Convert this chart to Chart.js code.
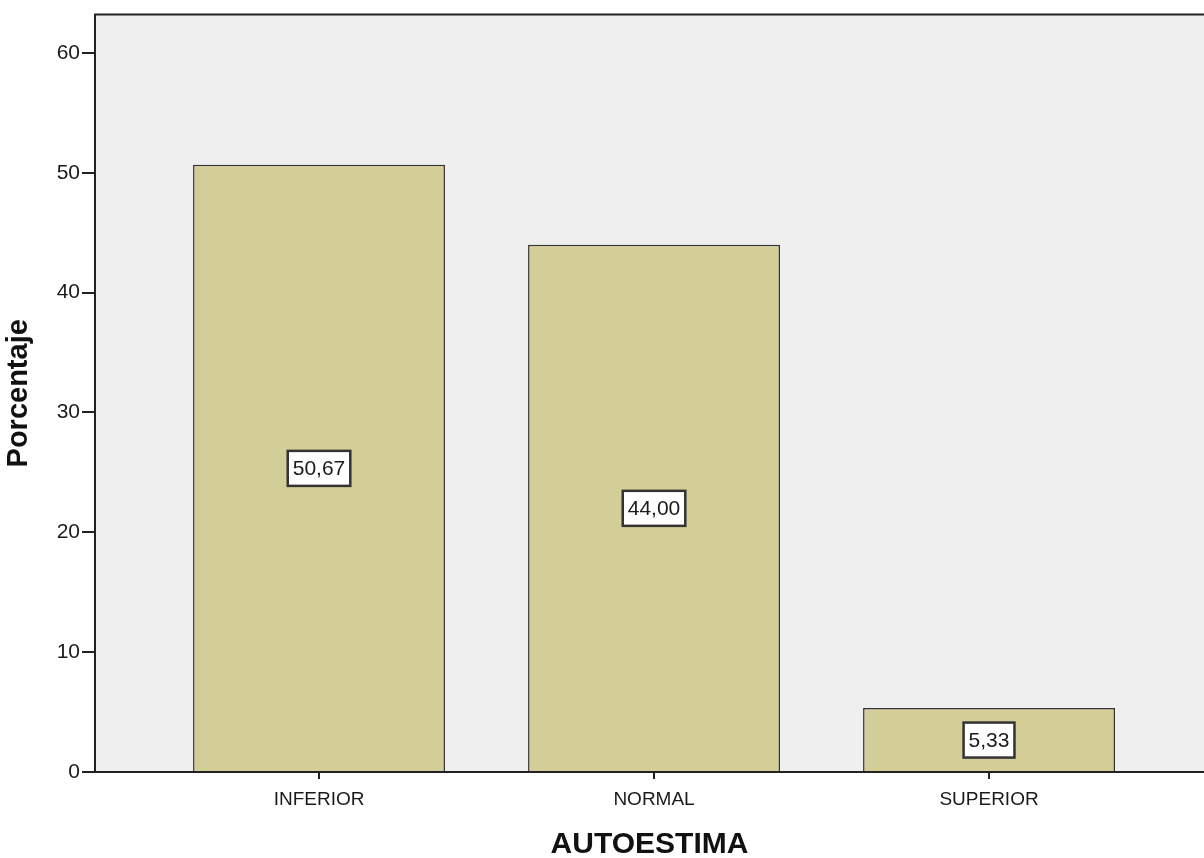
<!DOCTYPE html>
<html>
<head>
<meta charset="utf-8">
<script src="https://cdn.jsdelivr.net/npm/chart.js@4"></script>
<style>
  html, body { margin: 0; padding: 0; background: #fff; overflow: hidden; }
  canvas { display: block; }
</style>
</head>
<body>
<canvas id="grafico" width="1204" height="858"></canvas>
<script>
// Datos del gráfico
var categorias = ['INFERIOR', 'NORMAL', 'SUPERIOR'];
var porcentajes = [50.67, 44.00, 5.33];
var ticksY = [0, 10, 20, 30, 40, 50, 60];

// Fondo gris del área de trazado y borde superior
var fondoPlugin = {
    id: 'fondo',
    beforeDraw: function(chart) {
        var a = chart.chartArea, ctx = chart.ctx;
        ctx.save();
        ctx.fillStyle = '#efefef';
        ctx.fillRect(a.left, a.top, a.right - a.left, a.bottom - a.top);
        ctx.restore();
    },
    afterDraw: function(chart) {
        var a = chart.chartArea, ctx = chart.ctx;
        ctx.save();
        ctx.strokeStyle = '#222';
        ctx.lineWidth = 2;
        ctx.beginPath();
        ctx.moveTo(a.left - 1, a.top);
        ctx.lineTo(a.right + 2, a.top);
        ctx.stroke();
        ctx.restore();
    }
};

// Etiquetas con caja blanca en el centro de cada barra
var etiquetasPlugin = {
    id: 'etiquetas',
    afterDatasetsDraw: function(chart) {
        var ctx = chart.ctx, y = chart.scales.y;
        var meta = chart.getDatasetMeta(0);
        ctx.save();
        ctx.font = '21px "Liberation Sans", Arial, sans-serif';
        ctx.textAlign = 'center';
        ctx.textBaseline = 'middle';
        meta.data.forEach(function(bar, i) {
            var v = porcentajes[i];
            var texto = v.toFixed(2).replace('.', ',');
            var cy = y.getPixelForValue(v / 2);
            var w = ctx.measureText(texto).width + 10;
            var h = 35;
            ctx.fillStyle = '#fff';
            ctx.fillRect(bar.x - w / 2, cy - h / 2, w, h);
            ctx.strokeStyle = '#333';
            ctx.lineWidth = 2.5;
            ctx.strokeRect(bar.x - w / 2, cy - h / 2, w, h);
            ctx.fillStyle = '#1a1a1a';
            ctx.fillText(texto, bar.x, cy + 1);
        });
        ctx.restore();
    }
};

var ctx = document.getElementById('grafico').getContext('2d');
var grafico = new Chart(ctx, {
    type: 'bar',
    data: {
        datasets: [{
            label: 'Porcentaje',
            data: porcentajes.map(function(v, i) { return { x: i, y: v }; }),
            backgroundColor: '#d3ce98',
            borderColor: '#333',
            borderWidth: 1.5,
            categoryPercentage: 1,
            barPercentage: 0.752
        }]
    },
    options: {
        responsive: false,
        animation: false,
        devicePixelRatio: 1,
        layout: { padding: { top: 13, right: 0, left: 0, bottom: 0 } },
        plugins: {
            legend: { display: false },
            tooltip: { enabled: false }
        },
        scales: {
            x: {
                type: 'linear',
                offset: false,
                min: -0.6687,
                max: 2.6417,
                afterBuildTicks: function(s) {
                    s.ticks = categorias.map(function(c, i) { return { value: i }; });
                },
                afterFit: function(s) { s.height = 86; },
                grid: { offset: false, drawOnChartArea: false, drawTicks: true, tickLength: 7, color: '#222', lineWidth: 2 },
                border: { display: true, color: '#222', width: 2 },
                ticks: {
                    autoSkip: false,
                    maxRotation: 0,
                    padding: 9,
                    color: '#1a1a1a',
                    font: { family: '"Liberation Sans", Arial, sans-serif', size: 19 },
                    callback: function(v) { return categorias[v]; }
                },
                title: {
                    display: true,
                    text: 'AUTOESTIMA',
                    color: '#111',
                    padding: { top: 0, bottom: 0 },
                    font: { family: '"Liberation Sans", Arial, sans-serif', size: 30, weight: 'bold', lineHeight: 0.9 }
                }
            },
            y: {
                min: 0,
                max: 63.2,
                afterBuildTicks: function(s) {
                    s.ticks = ticksY.map(function(v) { return { value: v }; });
                },
                afterFit: function(s) { s.width = 95; },
                grid: { drawOnChartArea: false, drawTicks: true, tickLength: 13, color: '#222', lineWidth: 2 },
                border: { display: true, color: '#222', width: 2 },
                ticks: {
                    padding: 2,
                    color: '#1a1a1a',
                    font: { family: '"Liberation Sans", Arial, sans-serif', size: 21 }
                },
                title: {
                    display: true,
                    text: 'Porcentaje',
                    color: '#111',
                    padding: { top: 4, bottom: 0 },
                    font: { family: '"Liberation Sans", Arial, sans-serif', size: 29, weight: 'bold', lineHeight: 1 }
                }
            }
        }
    },
    plugins: [fondoPlugin, etiquetasPlugin]
});
</script>
</body>
</html>
